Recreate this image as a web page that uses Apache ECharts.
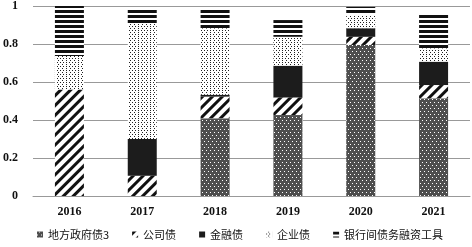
<!DOCTYPE html>
<html><head><meta charset="utf-8">
<script src="https://cdn.jsdelivr.net/npm/echarts@6/dist/echarts.min.js"></script>
<style>html,body{margin:0;padding:0;background:#fff}#c{width:472px;height:247px}</style>
</head><body><div id="c"></div>
<script>
var categories = ['2016','2017','2018','2019','2020','2021'];
var seriesNames = ['地方政府债3','公司债','金融债','企业债','银行间债务融资工具'];
var localGov   = [0,     0,     0.409, 0.426, 0.795, 0.514];
var corporate  = [0.56,  0.107, 0.114, 0.093, 0.043, 0.07];
var financial  = [0,     0.193, 0.01,  0.167, 0.045, 0.123];
var enterprise = [0.177, 0.609, 0.35,  0.152, 0.07,  0.07];
var interbank  = [0.263, 0.07,  0.096, 0.088, 0.043, 0.176];
var yTicks = [0, 0.2, 0.4, 0.6, 0.8, 1];

var dataArr = [localGov, corporate, financial, enterprise, interbank];
var styles = [
  {color:'#4e4e4e', decal:{symbol:'rect', color:'#ffffff', symbolSize:1, dashArrayX:[[1,3],[0,2,1,1]], dashArrayY:[1,1.5]}},
  {color:'#ffffff', decal:{symbol:'rect', color:'#111111', symbolSize:1, dashArrayX:[1,0], dashArrayY:[3,3.5], rotation:-Math.PI/4}},
  {color:'#1c1c1c'},
  {color:'#ffffff', decal:{symbol:'rect', color:'#222222', symbolSize:1, dashArrayX:[[1,2],[0,1.5,1,0.5]], dashArrayY:[1,1]}},
  {color:'#ffffff', decal:{symbol:'rect', color:'#111111', symbolSize:1, dashArrayX:[1,0], dashArrayY:[2.2,1.6]}}
];
var series = seriesNames.map(function(n,i){
  return {name:n, type:'bar', stack:'a', barWidth:29, data:dataArr[i], itemStyle:styles[i], emphasis:{disabled:true}};
});
var chart = echarts.init(document.getElementById('c'), null, {renderer:'canvas'});
chart.setOption({
  animation:false,
  grid:{left:32, right:2, top:6, bottom:51},
  legend:{top:229, left:37, icon:'rect', itemWidth:6, itemHeight:6, itemGap:23, padding:0,
    textStyle:{fontFamily:'Noto Sans CJK SC', fontSize:11, color:'#111'}, data:seriesNames},
  xAxis:{type:'category', data:categories,
    axisLine:{lineStyle:{color:'#999', width:1}}, axisTick:{show:false},
    axisLabel:{margin:10, fontFamily:'Liberation Serif', fontWeight:'bold', fontSize:12, color:'#111'}},
  yAxis:{type:'value', min:0, max:1, interval:0.2,
    axisLine:{show:false}, axisTick:{show:false},
    splitLine:{lineStyle:{color:'#999', width:1}},
    axisLabel:{margin:15, fontFamily:'Liberation Serif', fontWeight:'bold', fontSize:12, color:'#111'}},
  series:series
});
</script></body></html>
